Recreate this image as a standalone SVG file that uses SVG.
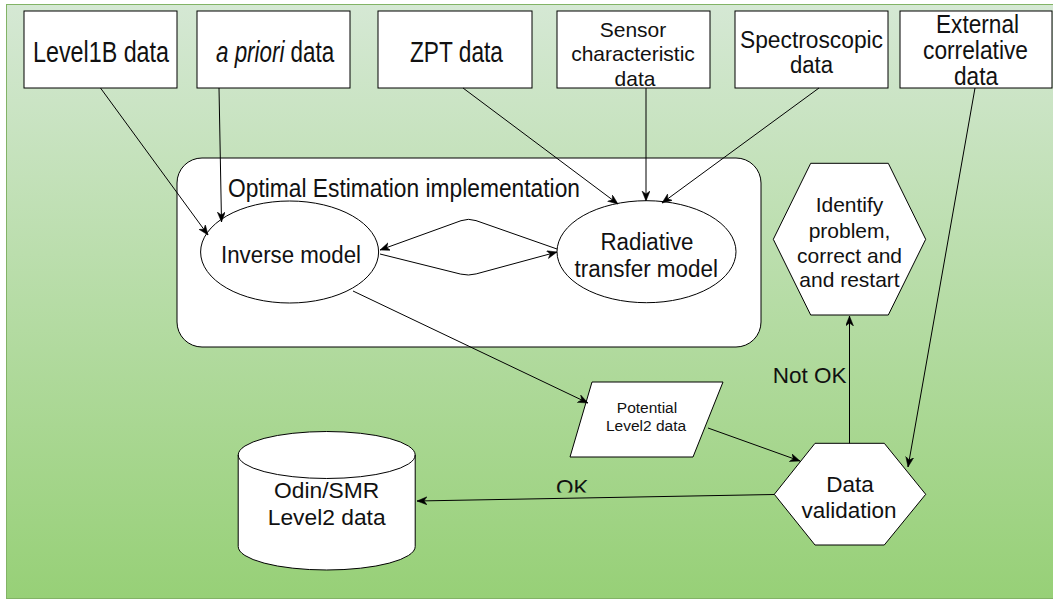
<svg xmlns="http://www.w3.org/2000/svg" width="1053" height="601" viewBox="0 0 1053 601">
  <defs>
    <linearGradient id="bg" x1="0" y1="0" x2="0" y2="1">
      <stop offset="0" stop-color="#d5e8d4"/>
      <stop offset="1" stop-color="#97d077"/>
    </linearGradient>
    <marker id="arr" markerUnits="userSpaceOnUse" markerWidth="12" markerHeight="10" refX="10" refY="4" orient="auto">
      <path d="M0,0 L10,4 L0,8 L3,4 Z" fill="#000" stroke="#000" stroke-width="0.5"/>
    </marker>
    <clipPath id="okclip">
      <rect x="530" y="460" width="80" height="32.5"/>
    </clipPath>
  </defs>
  <style>
    .shape { fill: #ffffff; stroke: #000000; stroke-width: 1; }
    .t { font-family: "Liberation Sans", Arial, sans-serif; fill: #111111; }
    .c { text-anchor: middle; }
    .edge { fill: none; stroke: #000000; stroke-width: 1; marker-end: url(#arr); }
  </style>

  <rect id="background" x="6.5" y="4.5" width="1060" height="594" fill="url(#bg)" stroke="#82b366" stroke-width="1"/>

  <g id="container">
    <rect class="shape" x="177" y="158" width="584" height="189" rx="25" ry="25"/>
    <text class="t" x="228" y="196.7" font-size="26" textLength="352" lengthAdjust="spacingAndGlyphs">Optimal Estimation implementation</text>
  </g>

  <g id="level1b">
    <rect class="shape" x="24" y="11" width="153" height="77"/>
    <text class="t" x="33" y="62" font-size="29" textLength="136" lengthAdjust="spacingAndGlyphs">Level1B data</text>
  </g>
  <g id="apriori">
    <rect class="shape" x="197" y="11" width="153" height="77"/>
    <g transform="translate(216,62) scale(0.772,1)">
      <text class="t" x="0" y="0" font-size="29"><tspan font-style="italic">a priori</tspan> data</text>
    </g>
  </g>
  <g id="zpt">
    <rect class="shape" x="378" y="11" width="154" height="77"/>
    <text class="t" x="410" y="62" font-size="29" textLength="93" lengthAdjust="spacingAndGlyphs">ZPT data</text>
  </g>
  <g id="sensor">
    <rect class="shape" x="557" y="11" width="153" height="77"/>
    <text class="t c" x="633" y="36.5" font-size="21">Sensor</text>
    <text class="t c" x="633" y="61" font-size="21">characteristic</text>
    <text class="t c" x="635" y="85.5" font-size="21">data</text>
  </g>
  <g id="spectro">
    <rect class="shape" x="735" y="11" width="153" height="77"/>
    <text class="t" x="740" y="48.3" font-size="23" textLength="143" lengthAdjust="spacingAndGlyphs">Spectroscopic</text>
    <text class="t" x="790" y="72.7" font-size="23" textLength="43" lengthAdjust="spacingAndGlyphs">data</text>
  </g>
  <g id="external">
    <rect class="shape" x="900" y="11" width="152" height="77"/>
    <text class="t" x="936" y="33.3" font-size="25" textLength="83" lengthAdjust="spacingAndGlyphs">External</text>
    <text class="t" x="923" y="59.3" font-size="25" textLength="105" lengthAdjust="spacingAndGlyphs">correlative</text>
    <text class="t" x="954" y="85" font-size="25" textLength="44" lengthAdjust="spacingAndGlyphs">data</text>
  </g>

  <g id="inverse">
    <ellipse class="shape" cx="289.6" cy="252" rx="89" ry="51"/>
    <text class="t" x="221" y="263" font-size="23" textLength="140" lengthAdjust="spacingAndGlyphs">Inverse model</text>
  </g>
  <g id="radiative">
    <ellipse class="shape" cx="646.5" cy="251.7" rx="89.5" ry="51"/>
    <text class="t" x="600.5" y="250" font-size="23.5" textLength="93" lengthAdjust="spacingAndGlyphs">Radiative</text>
    <text class="t" x="574.5" y="276.7" font-size="23.5" textLength="143.5" lengthAdjust="spacingAndGlyphs">transfer model</text>
  </g>

  <g id="identify">
    <polygon class="shape" points="810.7,163.3 888.3,163.3 925.7,239.3 888.3,315 810.7,315 773.3,239.3"/>
    <text class="t c" x="849.5" y="211.7" font-size="21">Identify</text>
    <text class="t c" x="849.5" y="238.3" font-size="21">problem,</text>
    <text class="t c" x="849.5" y="262.7" font-size="21">correct and</text>
    <text class="t c" x="849.5" y="287.3" font-size="21">and restart</text>
  </g>

  <g id="potential">
    <polygon class="shape" points="592,382 723,382 693,457 570,457"/>
    <text class="t c" x="647" y="413.3" font-size="15.5">Potential</text>
    <text class="t c" x="646" y="431" font-size="15.5">Level2 data</text>
  </g>

  <g id="validation">
    <polygon class="shape" points="815,443.3 884.3,443.3 925.7,494.3 884.3,545 815,545 774.3,494.3"/>
    <text class="t c" x="850" y="491.7" font-size="22.5">Data</text>
    <text class="t c" x="849" y="518.3" font-size="22.5">validation</text>
  </g>

  <g id="odin">
    <path class="shape" d="M238.2,455 A88.5,23.5 0 0 1 415.2,455 L415.2,546.5 A88.5,23.5 0 0 1 238.2,546.5 Z"/>
    <path d="M238.2,455 A88.5,23.5 0 0 0 415.2,455" fill="none" stroke="#000" stroke-width="1"/>
    <text class="t c" x="326.7" y="498.3" font-size="22.8">Odin/SMR</text>
    <text class="t c" x="326.7" y="525" font-size="22.8">Level2 data</text>
  </g>

  <g id="connectors">
    <path class="edge" d="M100.5,88 L208,235"/>
    <path class="edge" d="M219,88 L221.5,222"/>
    <path class="edge" d="M463,88 L618,204"/>
    <path class="edge" d="M646,88 L646,201"/>
    <path class="edge" d="M819,88 L662,203"/>
    <path class="edge" d="M975,88 L908,467"/>
    <path class="edge" d="M557,249 L476,220.6 Q468.5,218 461,220.7 L380,250"/>
    <path class="edge" d="M380,254 L460.7,274.1 Q468.5,276 476.2,273.9 L557,252"/>
    <path class="edge" d="M353,291 L588,403"/>
    <path class="edge" d="M708,428 L800,461"/>
    <path class="edge" d="M774.3,494.5 L417,501"/>
    <path class="edge" d="M849.5,443.3 L849.5,316"/>
    <text class="t" x="772.7" y="382.7" font-size="22.5">Not OK</text>
    <text class="t" x="556" y="495" font-size="22.5" clip-path="url(#okclip)">OK</text>
  </g>
</svg>
